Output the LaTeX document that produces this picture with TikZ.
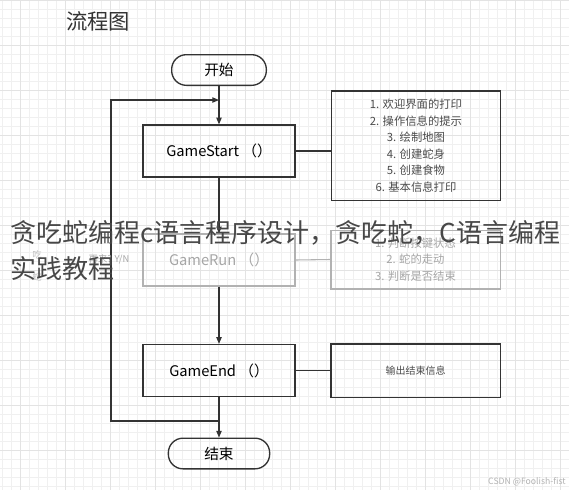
\documentclass[tikz,border=0pt]{standalone}
\usepackage{fontspec}
\setmainfont{Noto Sans CJK SC}
\usetikzlibrary{arrows.meta}

\tikzset{
  box/.style={draw=black!80, line width=1pt, minimum width=114pt, minimum height=39pt, font=\fontsize{11}{13}\selectfont},
  term/.style={draw=black!80, line width=1pt, rounded corners=11pt, minimum width=71pt, minimum height=23pt, font=\fontsize{11}{13}\selectfont},
  note/.style={draw=black!80, line width=1pt, align=center, text=black!70, minimum width=127pt, font=\fontsize{8.5}{12.4}\selectfont},
  flow/.style={draw=black!80, line width=0.8pt, -{Triangle[length=5pt,width=4pt]}},
  link/.style={draw=black!80, line width=0.8pt},
  faded/.style={draw=black!30, text=black!35},
  overlay text/.style={font=\fontsize{19.5}{27}\selectfont, text=black!72},
}

\begin{document}
\begin{tikzpicture}[x=0.75pt,y=0.75pt,yscale=-1,xscale=1]
\useasboundingbox (0,0) rectangle (569,490);
\fill[white] (0,0) rectangle (569,490);

% graph paper
\begin{scope}[shift={(20,0)}]
\draw[black!6, line width=0.4pt, step=9] (-20,0) grid (549,490);
\draw[black!11, line width=0.5pt, step=45] (-20,0) grid (549,490);
\end{scope}

% Title
\node (title) at (98,21) [font=\fontsize{16}{18}\selectfont, text=black!80] {流程图};

% Flow nodes
\node (start) at (219,70) [term] {开始};
\node (gamestart) at (219,151) [box] {GameStart （）};
\node (gamerun) at (219,260) [box, faded] {GameRun （）};
\node (gameend) at (219,370.5) [box] {GameEnd （）};
\node (end) at (219,453.5) [term, minimum width=76pt] {结束};

% Notes
\node (startinfo) at (416,145.5) [note, minimum height=82pt] {1. 欢迎界面的打印\\2. 操作信息的提示\\3. 绘制地图\\4. 创建蛇身\\5. 创建食物\\6. 基本信息打印};
\node (runinfo) at (415.5,259.5) [note, faded, minimum height=44pt] {1. 判断按键状态\\2. 蛇的走动\\3. 判断是否结束};
\node (endinfo) at (415.5,370.5) [note, minimum height=40pt, font=\fontsize{7.5}{9}\selectfont] {输出结束信息};

% Loop corners
\coordinate (loopin) at (219,421);
\coordinate (loopout) at (219,100);
\coordinate (backdown) at (111,421);
\coordinate (backup) at (111,100);

% Connectors
\draw[flow] (start) -- (gamestart);
\draw[flow] (gamestart) -- (gamerun);
\draw[flow] (gamerun) -- (gameend);
\draw[flow] (gameend) -- (end);
\draw[flow] (loopin) -- (backdown) -- (backup) -- (loopout);
\draw[link] (gamestart.east) -- (gamestart.east -| startinfo.west);
\draw[link, black!30] (gamerun.east) -- (runinfo.west);
\draw[link] (gameend.east) -- (endinfo.west);

% faded labels
\node (again) at (109,259) [font=\fontsize{7}{8}\selectfont, text=black!35] {再来? Y/N};
\node (ghostA) at (37,255) [font=\fontsize{7}{8}\selectfont, text=black!25] {吃};
\node (ghostB) at (37,277) [font=\fontsize{7}{8}\selectfont, text=black!25] {蛇};

% overlay caption
\node (captionA) at (10,233) [anchor=west, inner sep=0pt, overlay text] {贪吃蛇编程c语言程序设计，贪吃蛇，C语言编程};
\node (captionB) at (10,269) [anchor=west, inner sep=0pt, overlay text] {实践教程};

% site mark
\node (mark) at (566,482) [anchor=east, inner sep=0pt, font=\fontsize{6.5}{8}\selectfont, text=black!30] {CSDN @Foolish-fist};

\end{tikzpicture}
\end{document}
